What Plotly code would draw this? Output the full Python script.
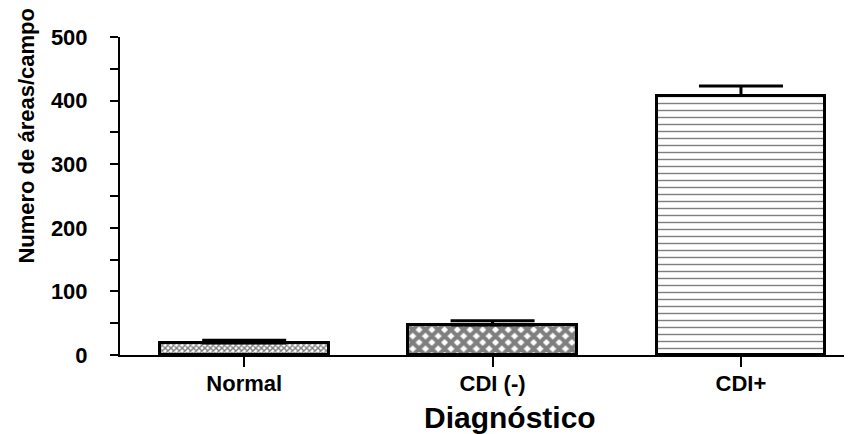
import plotly.graph_objects as go

categories = ["Normal", "CDI (-)", "CDI+"]
values = [19, 47, 408]
errors = [4, 7, 15]
patterns = ["x", "x", "-"]
pattern_sizes = [4, 9, 7]
pattern_solidity = [0.6, 0.7, 0.2]
y_ticks = [0, 100, 200, 300, 400, 500]

FONT = "Liberation Sans, Arial, sans-serif"

fig = go.Figure()
for i, cat in enumerate(categories):
    fig.add_trace(go.Bar(
        x=[i], y=[values[i]],
        width=0.68,
        marker=dict(color="white",
                    line=dict(color="black", width=3),
                    pattern=dict(shape=patterns[i], size=pattern_sizes[i],
                                 solidity=pattern_solidity[i],
                                 fgcolor="black", bgcolor="white", fillmode="overlay")),
        error_y=dict(type="data", array=[errors[i]], arrayminus=[0], symmetric=False,
                     color="black", thickness=3, width=42),
        showlegend=False,
    ))

fig.update_layout(
    width=844, height=426,
    margin=dict(l=112, r=0, t=29, b=79),
    paper_bgcolor="white", plot_bgcolor="white",
    font=dict(family=FONT, color="black"),
    bargap=0,
    xaxis=dict(range=[-0.5, 2.447], tickvals=[0, 1, 2], ticktext=categories,
               showline=True, linecolor="black", linewidth=2,
               ticks="outside", ticklen=10, tickwidth=2, tickcolor="black",
               showgrid=False, zeroline=False, ticklabelstandoff=-2,
               tickfont=dict(size=22, family=FONT, weight="bold")),
    yaxis=dict(range=[0, 500], tickvals=y_ticks,
               showline=True, linecolor="black", linewidth=2,
               ticks="outside", ticklen=8, tickwidth=2, tickcolor="black",
               minor=dict(dtick=50, ticks="outside", ticklen=8, tickwidth=2, tickcolor="black"),
               showgrid=False, zeroline=False, ticklabelstandoff=18,
               tickfont=dict(size=22, family=FONT, weight="bold")),
    annotations=[
        dict(text="Numero de áreas/campo", textangle=-90, xref="paper", yref="paper",
             x=-0.127, y=0.69, xanchor="center", yanchor="middle",
             showarrow=False, font=dict(size=22, family=FONT, weight="bold")),
        dict(text="Diagnóstico", xref="x", yref="paper", x=1.07, y=-0.197,
             xanchor="center", yanchor="middle", showarrow=False,
             font=dict(size=30, family=FONT, weight="bold")),
    ],
)

fig.write_html("out.html")
